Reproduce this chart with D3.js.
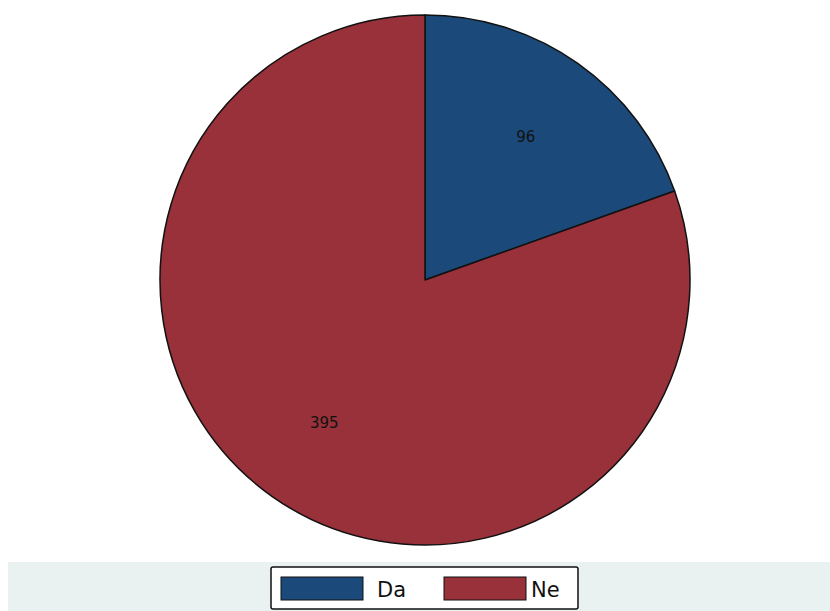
<!DOCTYPE html>
<html>
<head>
<meta charset="utf-8">
<script src="https://cdn.jsdelivr.net/npm/d3@7"></script>
<style>
  body { margin: 0; background: #fff; }
  svg { display: block; font-family: "DejaVu Sans", "Liberation Sans", sans-serif; }
</style>
</head>
<body>
<div id="chart"></div>
<script>
var width = 830;
var height = 611;

// data
var categories = ["Da", "Ne"];
var counts = [96, 395];
var colors = ["#1b4a7a", "#983139"];

var slices = categories.map(function (c, i) {
    return { name: c, value: counts[i], color: colors[i] };
});

var cx = 425, cy = 280, radius = 265;

var svg = d3.select("#chart")
    .append("svg")
    .attr("width", width)
    .attr("height", height);

svg.append("rect")
    .attr("width", width)
    .attr("height", height)
    .attr("fill", "#ffffff");

// light band at the bottom holding the legend
svg.append("rect")
    .attr("x", 8)
    .attr("y", 562)
    .attr("width", width - 8)
    .attr("height", height - 562)
    .attr("fill", "#eaf1f1");

var pie = d3.pie()
    .sort(null)
    .value(function (d) { return d.value; });

var arc = d3.arc().innerRadius(0).outerRadius(radius);
var labelArc = d3.arc().innerRadius(radius * 0.66).outerRadius(radius * 0.66);

var g = svg.append("g")
    .attr("transform", "translate(" + cx + "," + cy + ")");

g.selectAll(".slice")
    .data(pie(slices))
    .enter()
    .append("path")
    .attr("class", "slice")
    .attr("d", arc)
    .attr("fill", function (d) { return d.data.color; })
    .attr("stroke", "#111")
    .attr("stroke-width", 1.5)
    .attr("stroke-linejoin", "round");

g.selectAll(".lbl")
    .data(pie(slices))
    .enter()
    .append("text")
    .attr("class", "lbl")
    .attr("transform", function (d) { return "translate(" + labelArc.centroid(d) + ")"; })
    .attr("text-anchor", "middle")
    .attr("dy", "0.35em")
    .attr("font-size", 15)
    .attr("fill", "#111")
    .text(function (d) { return d.data.value; });

// legend
var legend = svg.append("g");

legend.append("rect")
    .attr("x", 271)
    .attr("y", 567)
    .attr("width", 307)
    .attr("height", 42)
    .attr("rx", 2)
    .attr("fill", "#fff")
    .attr("stroke", "#111")
    .attr("stroke-width", 1.5);

var legX = d3.scaleOrdinal().domain(categories).range([281, 444]);

var item = legend.selectAll(".item")
    .data(slices)
    .enter()
    .append("g")
    .attr("class", "item")
    .attr("transform", function (d) { return "translate(" + legX(d.name) + ",577)"; });

item.append("rect")
    .attr("width", 82)
    .attr("height", 23)
    .attr("fill", function (d) { return d.color; })
    .attr("stroke", "#111")
    .attr("stroke-width", 1);

item.append("text")
    .attr("x", function (d, i) { return i === 0 ? 96 : 87; })
    .attr("y", 20)
    .attr("font-size", 21)
    .attr("fill", "#111")
    .text(function (d) { return d.name; });
</script>
</body>
</html>
